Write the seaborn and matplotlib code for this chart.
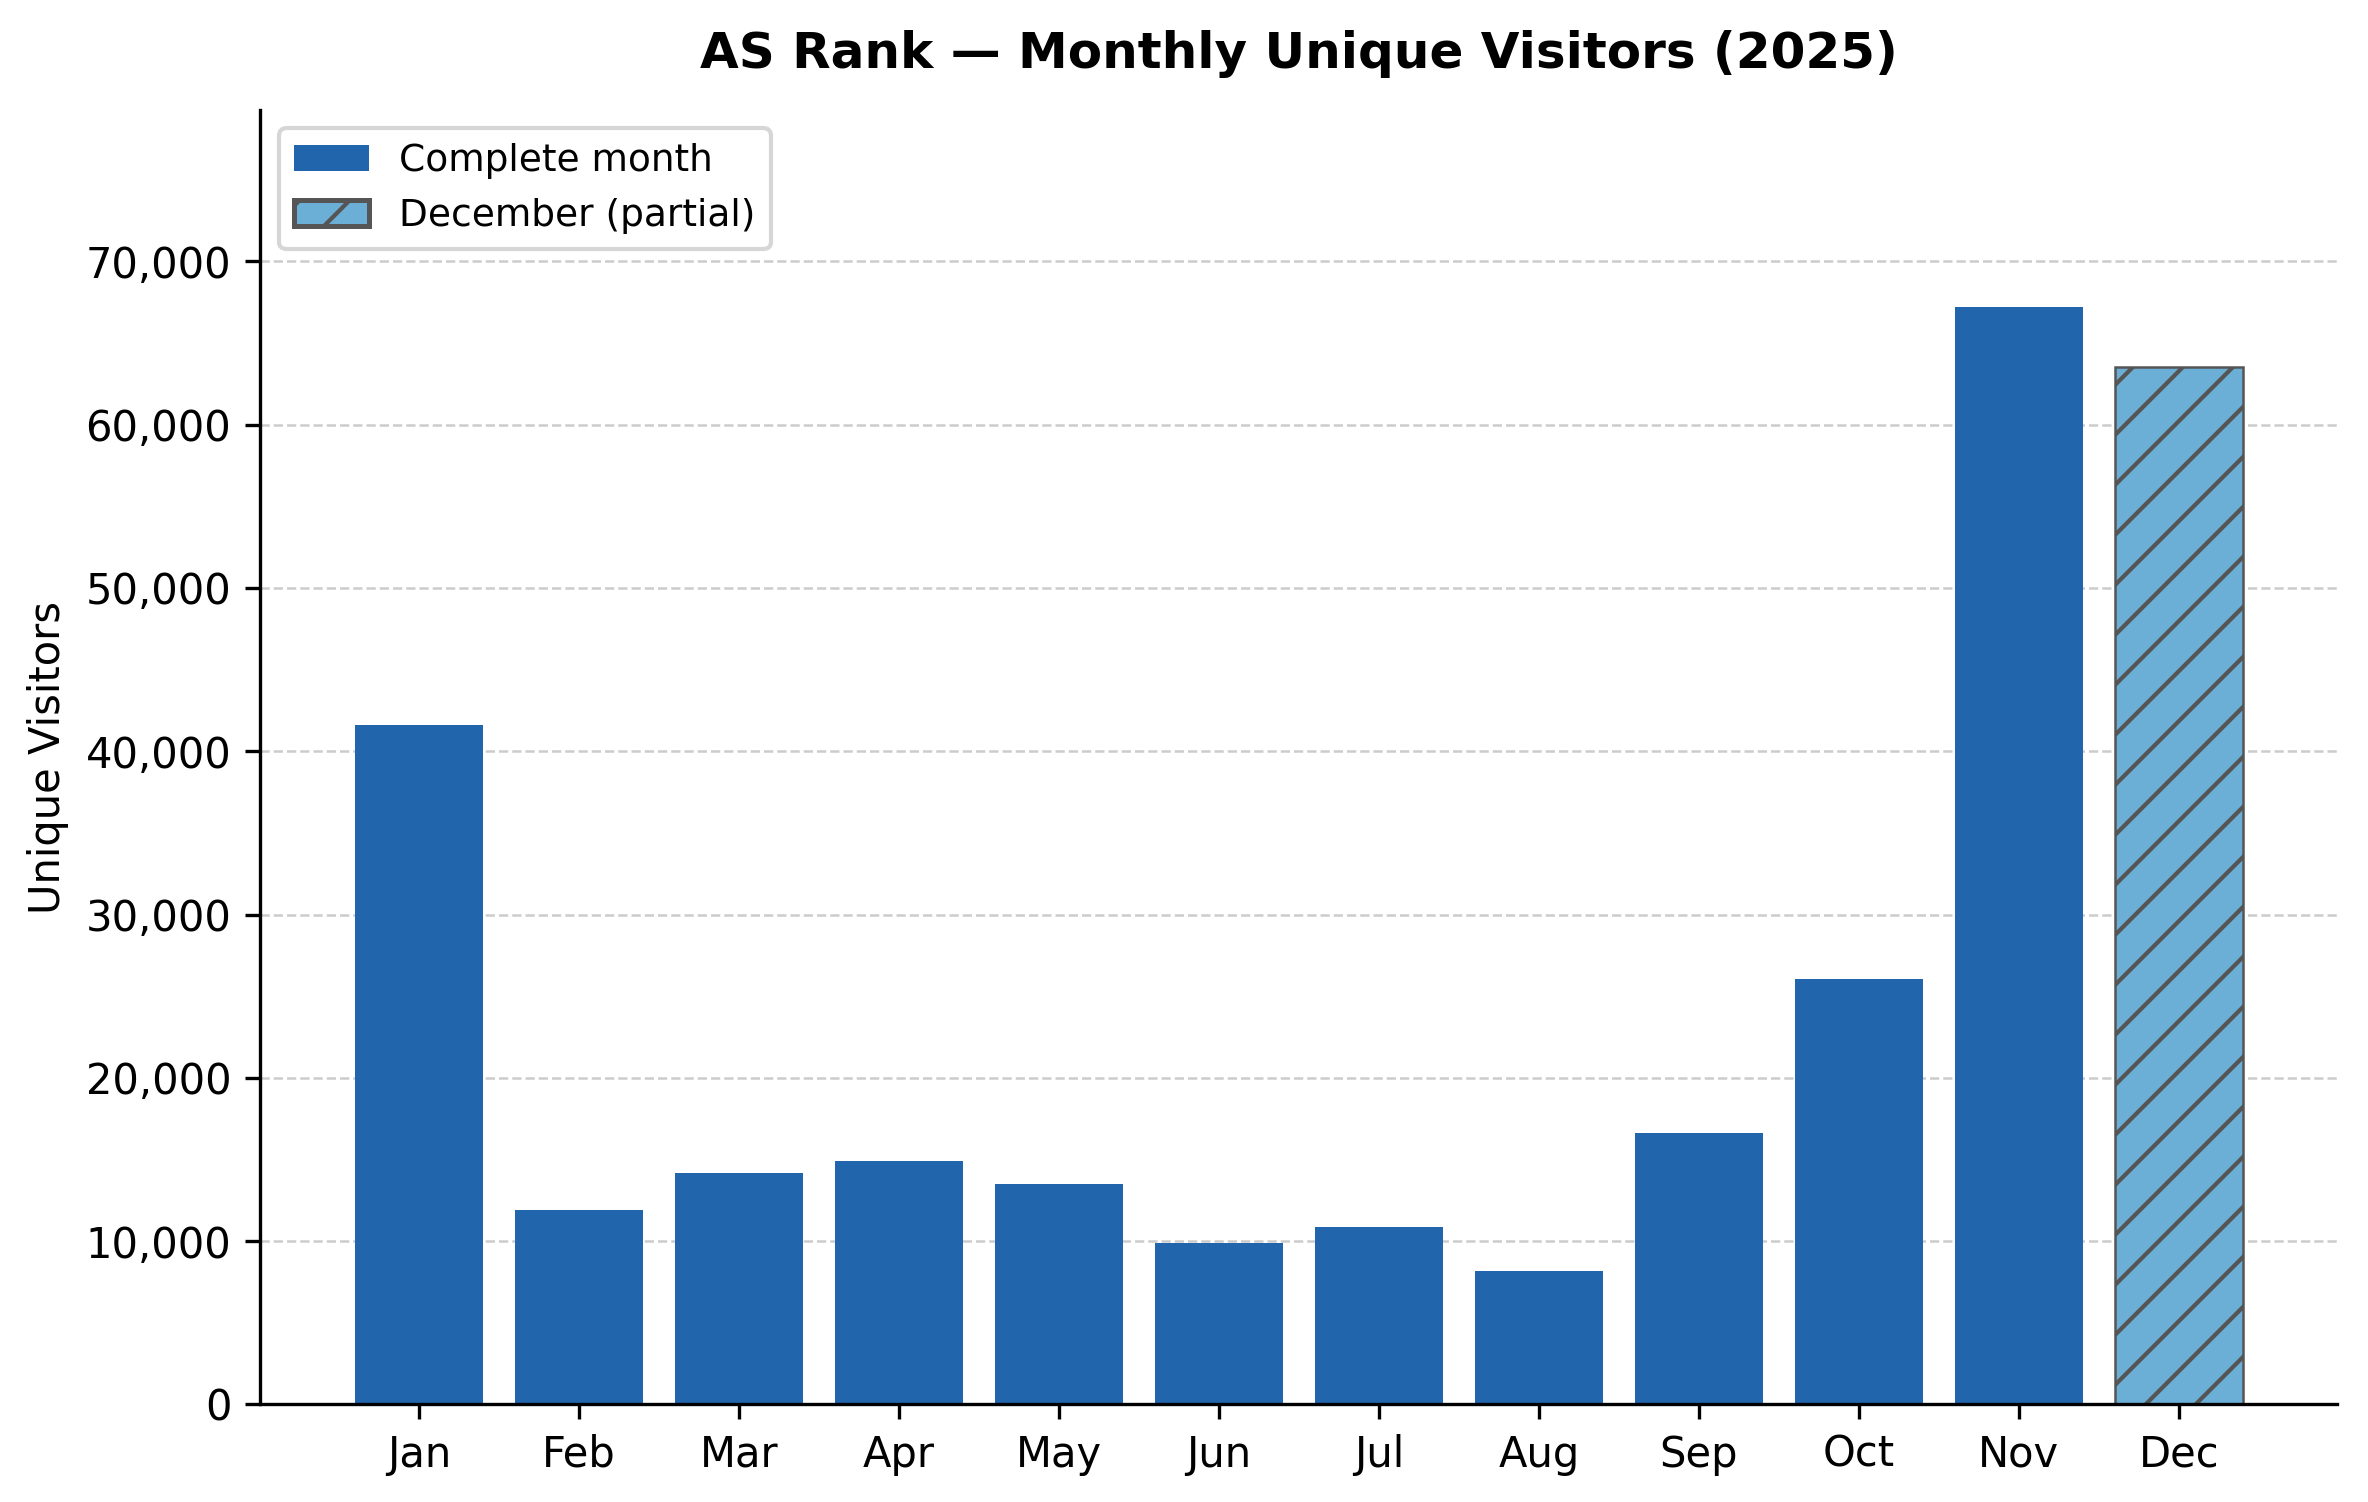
import matplotlib
matplotlib.use('Agg')
import matplotlib.pyplot as plt
from matplotlib.patches import Patch
from matplotlib.ticker import FuncFormatter
import seaborn as sns
import pandas as pd

months = ['Jan', 'Feb', 'Mar', 'Apr', 'May', 'Jun', 'Jul', 'Aug', 'Sep', 'Oct', 'Nov', 'Dec']
visitors = [41600, 11900, 14180, 14930, 13520, 9880, 10890, 8190, 16630, 26040, 67200, 63550]
status = ['Complete month'] * 11 + ['December (partial)']

full_color = '#2166ac'
partial_color = '#6baed6'

df = pd.DataFrame({'month': months, 'visitors': visitors, 'status': status})

plt.rcParams['hatch.color'] = '#555555'
fig, ax = plt.subplots(figsize=(2368 / 300, 1502 / 300), dpi=300)
plt.subplots_adjust(left=0.110, right=0.987, top=0.927, bottom=0.065)

sns.barplot(data=df, x='month', y='visitors', hue='status', dodge=False,
            palette={'Complete month': full_color, 'December (partial)': partial_color},
            saturation=1, width=0.8, legend=False, ax=ax)

# hatch the partial month
pr = matplotlib.colors.to_rgba(partial_color)
for p in ax.patches:
    fc = p.get_facecolor()
    if abs(fc[0] - pr[0]) < 0.01 and p.get_height() > 0:
        p.set_hatch('//')
        p.set_edgecolor('#555555')
        p.set_linewidth(0.6)

ax.set_xlim(-0.99, 11.99)
ax.set_ylim(0, max(visitors) * 1.18)
ax.set_yticks(range(0, 70001, 10000))
ax.yaxis.set_major_formatter(FuncFormatter(lambda v, _: f'{int(v):,}'))
ax.grid(axis='y', linestyle='--', color='#cccccc', linewidth=0.6)
ax.set_axisbelow(True)
sns.despine(ax=ax)

ax.set_xlabel('')
ax.set_ylabel('Unique Visitors', fontsize=10)
ax.tick_params(axis='both', labelsize=10)
ax.set_title('AS Rank — Monthly Unique Visitors (2025)', fontsize=12, fontweight='bold', pad=10)

handles = [Patch(facecolor=full_color, label='Complete month'),
           Patch(facecolor=partial_color, edgecolor='#555555', hatch='//', linewidth=1.2,
                 label='December (partial)')]
ax.legend(handles=handles, loc='upper left', fontsize=9)

fig.savefig('out.png', dpi=300)
